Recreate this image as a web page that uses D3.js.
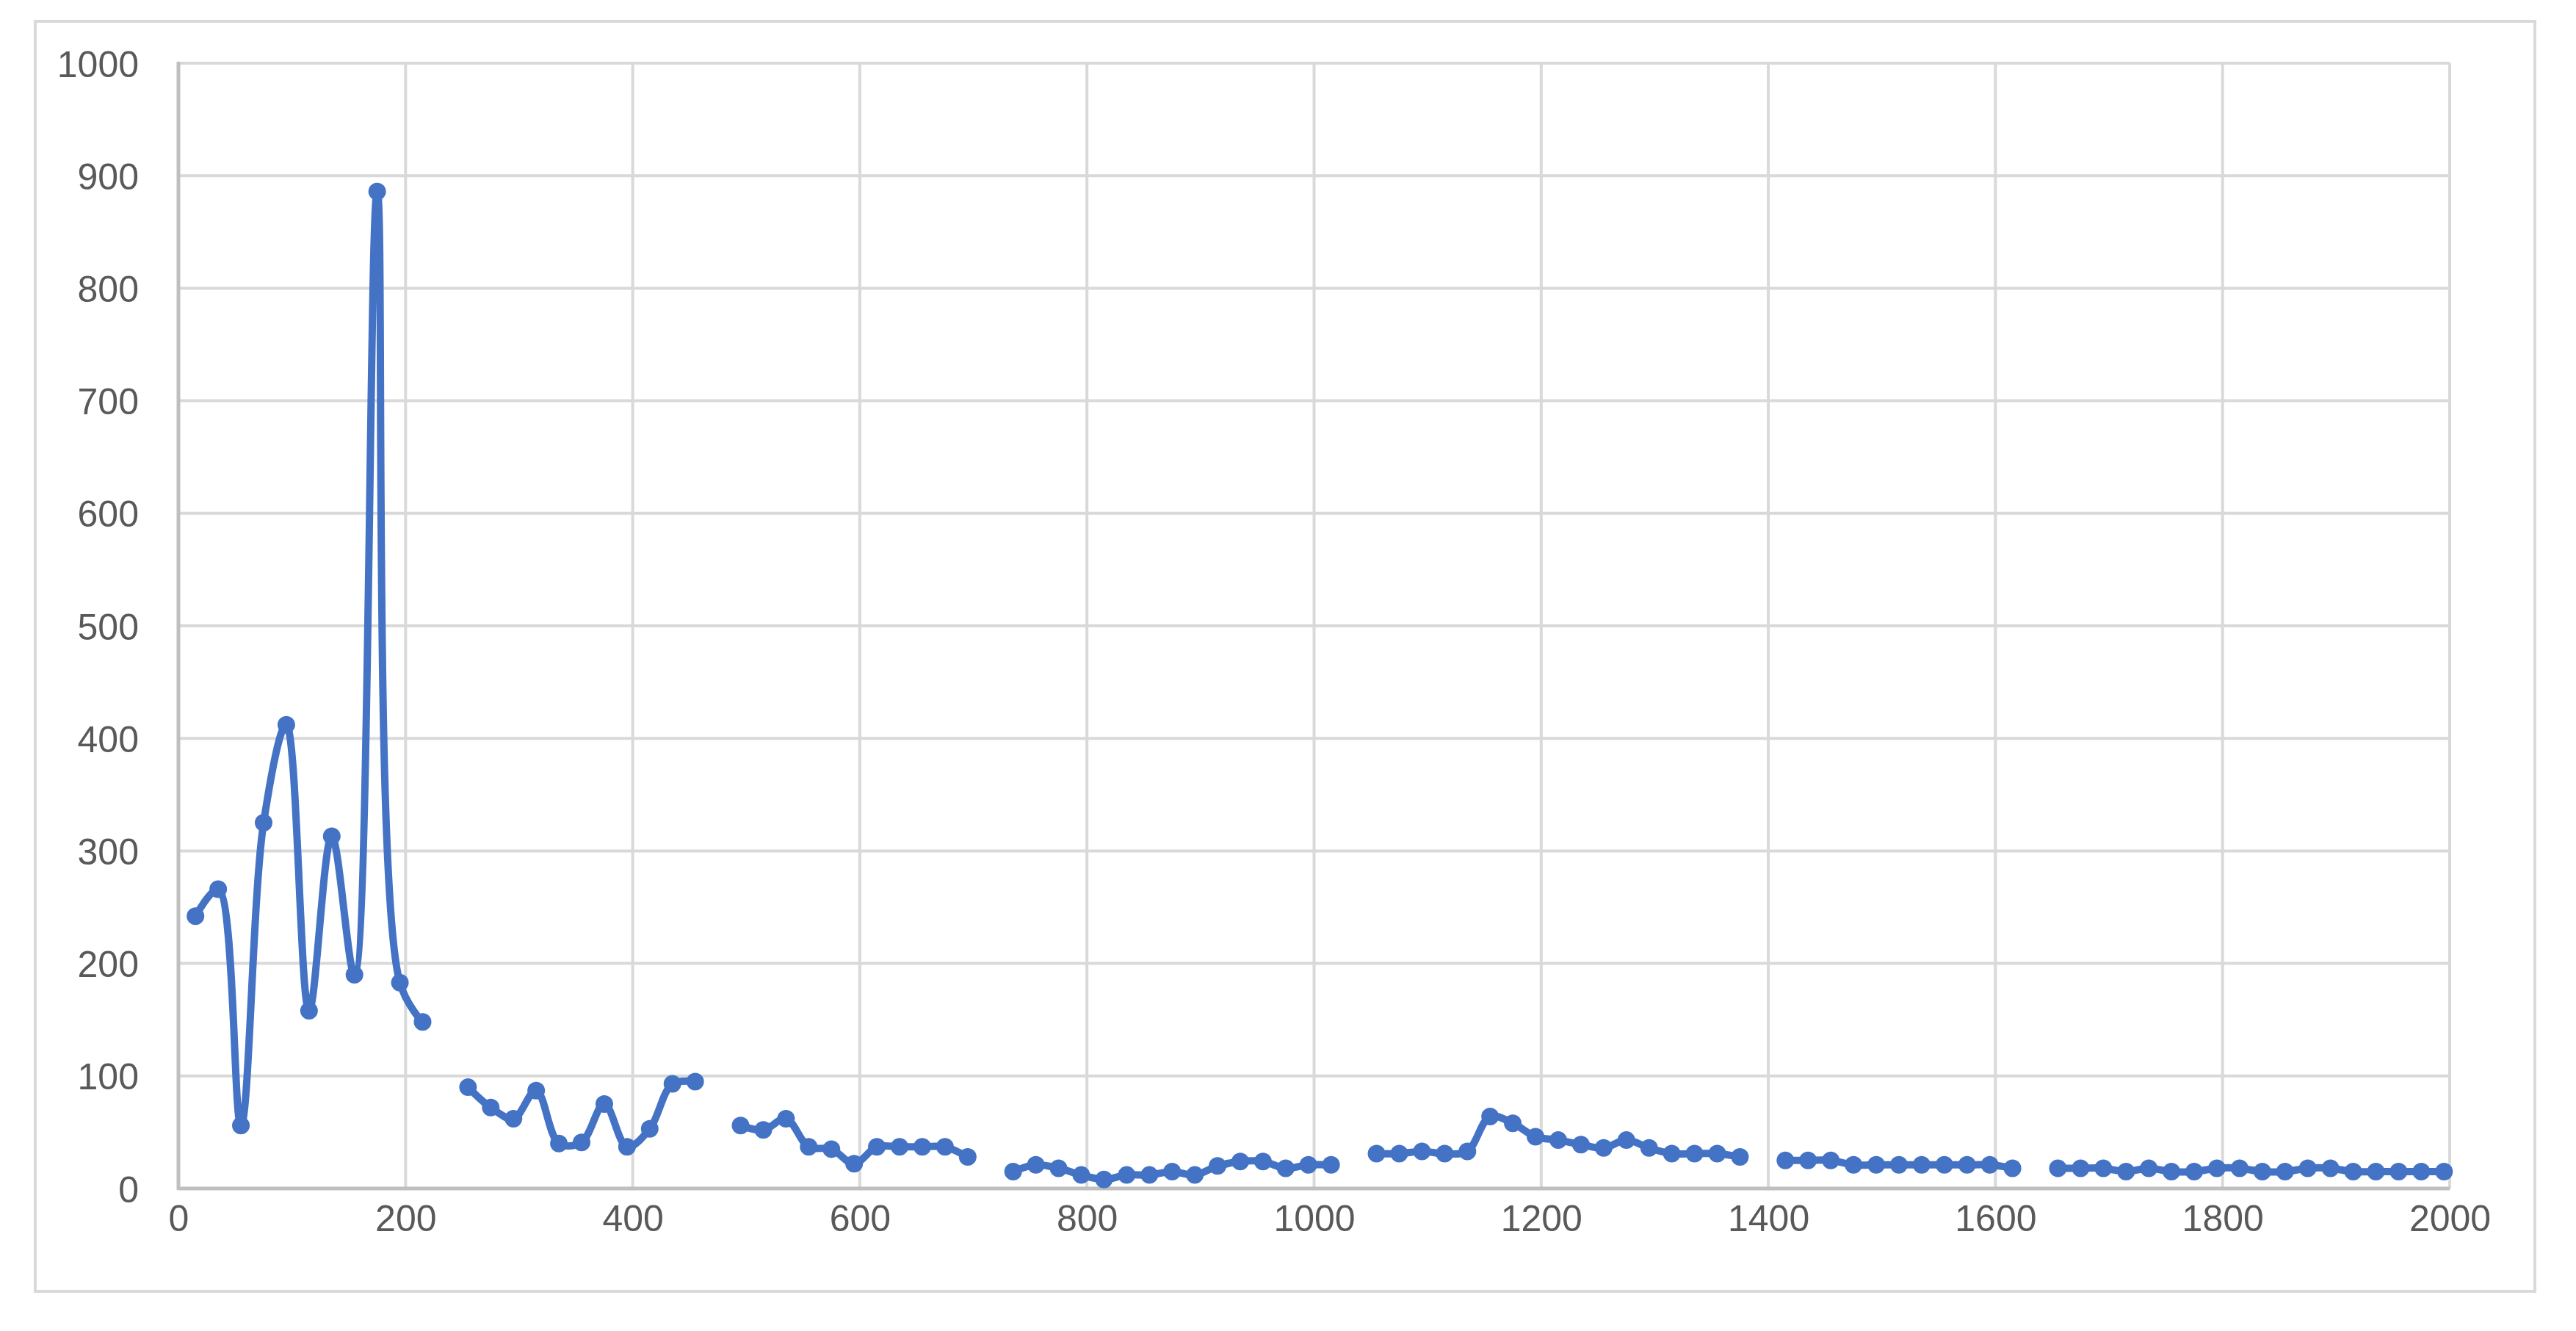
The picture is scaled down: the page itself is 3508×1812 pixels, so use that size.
<!DOCTYPE html>
<html>
<head>
<meta charset="utf-8">
<script src="https://cdn.jsdelivr.net/npm/d3@7"></script>
<style>
  html, body { margin: 0; padding: 0; background: #ffffff; }
  svg { display: block; }
  text { font-family: "Liberation Sans", Arial, sans-serif; }
</style>
</head>
<body>
<div id="chart"></div>
<script>
// ---- data ----
const seg1X = [15, 35, 55, 75, 95, 115, 135, 155, 175, 195, 215];
const seg1Y = [242, 266, 56, 325, 412, 158, 313, 190, 886, 183, 148];

const seg2X = [255, 275, 295, 315, 335, 355, 375, 395, 415, 435, 455];
const seg2Y = [90, 72, 62, 87, 40, 41, 75, 37, 53, 93, 95];

const seg3X = [495, 515, 535, 555, 575, 595, 615, 635, 655, 675, 695];
const seg3Y = [56, 52, 62, 37, 35, 22, 37, 37, 37, 37, 28];

const seg4X = [735, 755, 775, 795, 815, 835, 855, 875, 895, 915, 935, 955, 975, 995, 1015];
const seg4Y = [15, 21, 18, 12, 8, 12, 12, 15, 12, 20, 24, 24, 18, 21, 21];

const seg5X = [1055, 1075, 1095, 1115, 1135, 1155, 1175, 1195, 1215, 1235, 1255, 1275, 1295, 1315, 1335, 1355, 1375];
const seg5Y = [31, 31, 33, 31, 33, 64, 58, 46, 43, 39, 36, 43, 36, 31, 31, 31, 28];

const seg6X = [1415, 1435, 1455, 1475, 1495, 1515, 1535, 1555, 1575, 1595, 1615];
const seg6Y = [25, 25, 25, 21, 21, 21, 21, 21, 21, 21, 18];

const seg7X = [1655, 1675, 1695, 1715, 1735, 1755, 1775, 1795, 1815, 1835, 1855, 1875, 1895, 1915, 1935, 1955, 1975, 1995];
const seg7Y = [18, 18, 18, 15, 18, 15, 15, 18, 18, 15, 15, 18, 18, 15, 15, 15, 15, 15];

const xTicks = [0, 200, 400, 600, 800, 1000, 1200, 1400, 1600, 1800, 2000];
const yTicks = [0, 100, 200, 300, 400, 500, 600, 700, 800, 900, 1000];

// ---- layout ----
const W = 3508, H = 1812;
const plot = { left: 243, right: 3336, top: 86, bottom: 1618 };
const lineColor = "#4472C4";

const svg = d3.select("#chart").append("svg")
  .attr("width", W).attr("height", H)
  .attr("viewBox", `0 0 ${W} ${H}`);

svg.append("rect").attr("x", 0).attr("y", 0).attr("width", W).attr("height", H).attr("fill", "#fff");

// outer chart border
svg.append("rect")
  .attr("x", 48).attr("y", 29)
  .attr("width", 3452 - 48).attr("height", 1758 - 29)
  .attr("fill", "none").attr("stroke", "#d9d9d9").attr("stroke-width", 4);

const x = d3.scaleLinear().domain([0, 2000]).range([plot.left, plot.right]);
const y = d3.scaleLinear().domain([0, 1000]).range([plot.bottom, plot.top]);

// gridlines
const grid = svg.append("g");
grid.selectAll("line.h").data(yTicks.filter(d => d > 0)).join("line")
  .attr("x1", plot.left).attr("x2", plot.right)
  .attr("y1", d => y(d)).attr("y2", d => y(d))
  .attr("stroke", "#d9d9d9").attr("stroke-width", 4);
grid.selectAll("line.v").data(xTicks.filter(d => d > 0)).join("line")
  .attr("y1", plot.top).attr("y2", plot.bottom)
  .attr("x1", d => x(d)).attr("x2", d => x(d))
  .attr("stroke", "#d9d9d9").attr("stroke-width", 4);

// axes (labels through d3 axes)
const xAxis = svg.append("g")
  .attr("transform", `translate(0,${plot.bottom})`)
  .call(d3.axisBottom(x).tickValues(xTicks).tickSize(0).tickPadding(58).tickFormat(d3.format("d")));
const yAxis = svg.append("g")
  .attr("transform", `translate(${plot.left},0)`)
  .call(d3.axisLeft(y).tickValues(yTicks).tickSize(0).tickPadding(54).tickFormat(d3.format("d")));

[xAxis, yAxis].forEach(a => {
  a.select(".domain").remove();
  a.selectAll("text")
    .attr("fill", "#595959")
    .style("font-size", "50px")
    .style("font-family", "'Liberation Sans', Arial, sans-serif");
});
xAxis.selectAll("text").attr("dy", "0");
yAxis.selectAll("text").attr("dy", "0.36em");

// axis lines
svg.append("line")
  .attr("x1", plot.left).attr("x2", plot.right)
  .attr("y1", plot.bottom).attr("y2", plot.bottom)
  .attr("stroke", "#bfbfbf").attr("stroke-width", 5);
svg.append("line")
  .attr("x1", plot.left).attr("x2", plot.left)
  .attr("y1", plot.top - 2).attr("y2", plot.bottom + 2)
  .attr("stroke", "#bfbfbf").attr("stroke-width", 5);

// series
const segments = [
  [seg1X, seg1Y], [seg2X, seg2Y], [seg3X, seg3Y], [seg4X, seg4Y],
  [seg5X, seg5Y], [seg6X, seg6Y], [seg7X, seg7Y]
].map(([xs, ys]) => xs.map((v, i) => ({ x: v, y: ys[i] })));

const line = d3.line()
  .x(d => x(d.x)).y(d => y(d.y))
  .curve(d3.curveCatmullRom.alpha(0.5));

const series = svg.append("g");
series.selectAll("path").data(segments).join("path")
  .attr("d", line)
  .attr("fill", "none")
  .attr("stroke", lineColor)
  .attr("stroke-width", 10)
  .attr("stroke-linejoin", "round")
  .attr("stroke-linecap", "round");

series.selectAll("circle").data(segments.flat()).join("circle")
  .attr("cx", d => x(d.x)).attr("cy", d => y(d.y))
  .attr("r", 12)
  .attr("fill", lineColor);
</script>
</body>
</html>
